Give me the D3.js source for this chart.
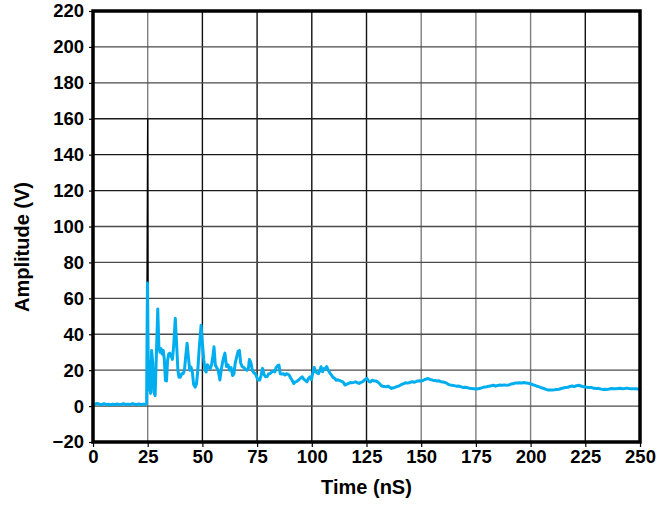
<!DOCTYPE html>
<html>
<head>
<meta charset="utf-8">
<script src="https://cdn.jsdelivr.net/npm/d3@7"></script>
<style>
  html, body { margin: 0; padding: 0; background: #fff; }
  svg { display: block; }
  text { font-family: "Liberation Sans", Arial, Helvetica, sans-serif; font-weight: bold; }
</style>
</head>
<body>
<svg id="chart" width="669" height="508"></svg>
<script>
// ---- data ----
const xTicks = [0, 25, 50, 75, 100, 125, 150, 175, 200, 225, 250];
const yTicks = [-20, 0, 20, 40, 60, 80, 100, 120, 140, 160, 180, 200, 220];
const xLabel = "Time (nS)";
const yLabel = "Amplitude (V)";

const timeNs = [0,1,2,3,4,5,6,7,8,9,10,11,12,13,14,15,16,17,18,19,20,21,22,23,24,24.5,
 24.7,24.9,25.2,25.5,25.9,26.3,26.8,27.3,27.8,28.4,29.0,29.6,30.1,30.6,31.1,31.6,32.1,32.6,33.1,33.6,
 34.1,34.6,35.1,35.7,36.3,36.9,37.6,38.2,38.8,39.3,39.9,40.5,41.2,41.8,42.4,43.0,43.6,44.2,44.8,45.4,
 46.0,46.7,47.3,47.9,48.6,49.4,50.0,50.6,51.2,51.7,52.3,52.9,53.6,54.2,54.8,55.3,55.9,56.5,57.2,58.0,
 58.7,59.5,60.3,61.0,61.7,62.4,63.1,63.8,64.4,65.0,65.6,66.3,66.9,67.5,68.2,68.9,69.6,70.3,71.0,71.5,
 72.2,72.8,73.5,74.2,74.9,75.5,76.2,76.8,77.5,78.2,78.9,79.6,80.3,81.0,81.7,82.4,83.1,83.7,84.4,85.0,
 85.6,86.3,87.0,87.7,88.4,89.1,89.8,90.4,91.0,91.8,92.5,93.2,94.0,94.8,95.6,96.3,97.0,97.8,98.5,99.2,
 99.8,100.4,101.1,101.7,102.4,103.1,103.7,104.2,104.9,105.6,106.3,106.8,107.5,108.2,109.0,109.7,110.4,
 111.2,112.0,112.8,113.6,114.4,115.2,116.0,116.8,117.6,118.4,119.2,120.0,120.8,121.6,122.4,123.2,124.0,
 124.6,125.2,126.0,126.8,127.6,128.4,129.2,130.0,130.8,131.6,132.4,133.2,134.0,134.8,135.6,136.4,137.2,
 138.0,138.8,139.6,140.4,141.2,142.0,142.8,143.6,144.4,145.2,146.0,146.8,147.6,148.4,149.2,150.0,150.8,
 151.6,152.4,153.2,154.0,154.8,155.6,156.4,157.2,158.0,159,160,161,162,163,164,165,166,167,168,169,170,
 171,172,173,174,175,176,177,178,179,180,181,182,183,184,185,186,187,188,189,190,191,192,193,194,195,196,
 197,198,199,200,201,202,203,204,205,206,207,208,209,210,211,212,213,214,215,216,217,218,219,220,221,222,
 223,224,225,226,227,228,229,230,231,232,233,234,235,236,237,238,239,240,241,242,243,244,245,246,247,248,
 249,250];
const amplitudeV = [0.5,1.2,1.5,1.0,0.8,1.3,0.9,1.0,0.7,1.1,0.9,1.2,0.8,1.0,1.3,0.9,1.1,0.8,1.4,1.0,0.9,1.2,0.8,1.1,0.9,1.5,
 40,68.5,30,9,25,7,31,24,8,5.8,30,54,33,30,32,29,31,26,14.2,14,
 25.5,29,29.5,28,26,34,48.9,35,20,16.1,16,18,18,20,28,35,27.3,20,21.7,19,
 12,10.5,12.3,20,33,45,35,26,20,19,23,21.5,21,23,28,33,23,21.5,20,14.5,
 21,26,29.5,22,23,20,21.5,17,18,24,27,30.5,31,24,22,21.5,20.5,20,21,26,
 24,20,18.5,18,16,14.4,14.5,17,21,17.5,16.3,16.5,18,18.1,19,19.5,19,21.5,22.5,22.8,
 18,17.8,18,17.3,18,17.8,17,15.5,14.4,12.6,13.5,13.8,14.5,15.5,16.3,15,14.4,13.5,15.5,16.3,
 14.8,18.1,21.5,19.1,18.5,18.1,20,21.9,19.1,20.9,21,22,20,18.5,17.2,16,15.5,
 14.4,14.6,14.2,13.8,13.2,11.7,12.2,12.6,13.1,13,13.2,13.5,13,12.6,13.2,13.5,14.4,
 15,15.4,13.8,13.4,14.4,14,14,13.5,12.8,11.5,11,10.9,10.7,11.1,10.5,9.8,10.2,
 10.4,10.8,11.1,11.6,12.2,12.5,13,12.8,13,13.4,13.5,13.3,13.6,14,14.1,14,14.2,
 14.8,15.1,15.4,14.8,14.6,14.3,14.2,14.0,14.1,13.6,13.4,13.1,12.4,11.8,11.6,11.4,11.1,11.2,10.8,10.4,10.5,
 10.3,9.9,9.8,9.7,9.5,9.7,9.9,10.3,10.6,10.8,11.1,11.3,11.6,11.1,11.5,11.7,11.6,11.8,11.6,11.7,12.3,12.4,12.9,12.8,13.0,12.9,
 13.1,12.8,12.7,12.4,11.9,11.5,11.0,10.7,10.2,9.8,9.3,9.0,8.9,9.0,9.1,9.3,9.4,9.8,10.1,10.4,10.5,10.9,11.2,10.8,11.4,11.6,
 11.2,10.8,10.7,10.4,10.4,10.3,9.9,9.8,9.9,9.5,9.3,9.4,9.3,9.5,9.8,9.7,9.6,9.8,9.9,9.7,9.8,10.0,9.8,9.7,9.6,9.6,
 9.5,9.6];

// black overshoot trace that only differs at the main spike
const spikeTimeNs = [24.7, 25.0, 25.15];
const spikeAmpV = [68, 160, 66];

// ---- layout ----
const W = 669, H = 508;
const m = { left: 93, top: 11, right: 29, bottom: 66 };
const iw = W - m.left - m.right, ih = H - m.top - m.bottom;

const svg = d3.select("#chart");
const g = svg.append("g").attr("transform", `translate(${m.left},${m.top})`);

const x = d3.scaleLinear().domain([0, 250]).range([0, iw]);
const y = d3.scaleLinear().domain([-20, 220]).range([ih, 0]);

const grayX = new Set([25, 150, 175, 200]);
const darkY = new Set([120, 140, 160]);

// grid
g.append("g").selectAll("line").data(xTicks.slice(1, -1)).join("line")
  .attr("x1", d => x(d)).attr("x2", d => x(d)).attr("y1", 0).attr("y2", ih)
  .attr("stroke", d => grayX.has(d) ? "#7f7f7f" : "#111").attr("stroke-width", 1.4);
g.append("g").selectAll("line").data(yTicks.slice(1, -1)).join("line")
  .attr("x1", 0).attr("x2", iw).attr("y1", d => y(d)).attr("y2", d => y(d))
  .attr("stroke", d => darkY.has(d) ? "#1a1a1a" : "#4a4a4a").attr("stroke-width", 1.4);

// data lines
const pts = timeNs.map((t, i) => [t, amplitudeV[i]]);
const spk = spikeTimeNs.map((t, i) => [t, spikeAmpV[i]]);
const line = d3.line().x(d => x(d[0])).y(d => y(d[1]));

g.append("path").datum(spk).attr("d", line)
  .attr("fill", "none").attr("stroke", "#000").attr("stroke-width", 1.4);
g.append("path").datum(pts).attr("d", line)
  .attr("fill", "none").attr("stroke", "#00AEEF").attr("stroke-width", 3)
  .attr("stroke-linejoin", "round").attr("stroke-linecap", "round");

// axes
const xAxis = d3.axisBottom(x).tickValues(xTicks).tickSize(5).tickPadding(3).tickFormat(d3.format("d"));
const yAxis = d3.axisLeft(y).tickValues(yTicks).tickSize(4).tickPadding(5)
  .tickFormat(d => d < 0 ? "\u2212" + Math.abs(d) : d);

const gx = g.append("g").attr("transform", `translate(0,${ih})`).call(xAxis);
const gy = g.append("g").call(yAxis);
[gx, gy].forEach(a => {
  a.select(".domain").remove();
  a.selectAll(".tick line").attr("stroke", "#000").attr("stroke-width", 1.2);
  a.selectAll("text").attr("fill", "#000").style("font-size", "18.5px")
    .style("font-family", '"Liberation Sans", Arial, sans-serif').style("font-weight", "bold");
});
gx.selectAll("text").attr("dy", "0.71em");

// frame
g.append("rect").attr("x", 0).attr("y", 0).attr("width", iw).attr("height", ih)
  .attr("fill", "none").attr("stroke", "#000").attr("stroke-width", 3.5);

// axis titles
svg.append("text").attr("x", m.left + iw / 2).attr("y", 494)
  .attr("text-anchor", "middle").style("font-size", "20px").text(xLabel);
svg.append("text").attr("transform", `translate(29,247) rotate(-90)`)
  .attr("text-anchor", "middle").style("font-size", "20px").text(yLabel);
</script>
</body>
</html>
